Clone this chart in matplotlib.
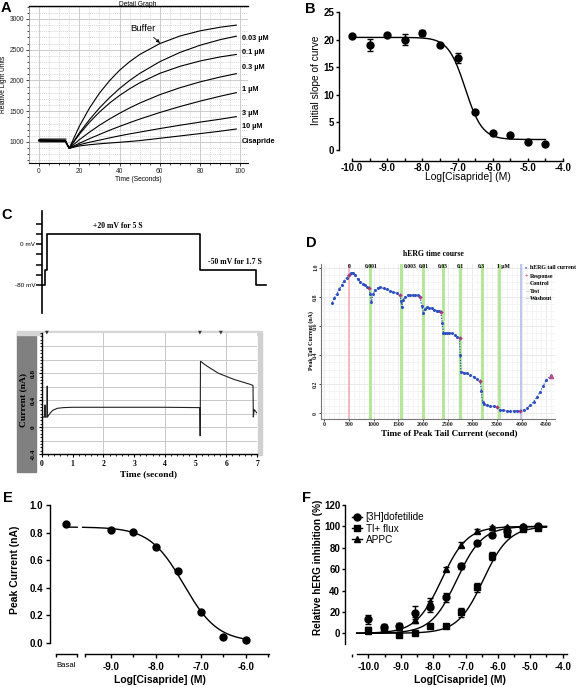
import numpy as np
import matplotlib
matplotlib.use("Agg")
import matplotlib.pyplot as plt
from matplotlib.ticker import MultipleLocator, FixedLocator, FormatStrFormatter, NullFormatter
from matplotlib.patches import Rectangle
from matplotlib.lines import Line2D

SANS = "Liberation Sans"
SERIF = "Liberation Serif"
plt.rcParams['font.family'] = [SANS, 'DejaVu Sans']
plt.rcParams['axes.unicode_minus'] = False

W, H = 576, 687
fig = plt.figure(figsize=(W / 100, H / 100), dpi=100)


def box(l, t, r, b):
    return [l / W, 1 - b / H, (r - l) / W, (b - t) / H]


def fx(x):
    return x / W


def fy(y):
    return 1 - y / H


# ------------------------------------------------------------------ data
# Panel A: fluorescence traces (time in s, relative light units)
a_time = [0, 13, 15, 20, 25, 30, 35, 40, 45, 50, 60, 70, 80, 90, 98]
a_buffer = [1025, 1020, 898, 1254, 1548, 1793, 1995, 2166, 2305, 2422, 2600, 2723, 2807, 2866, 2900]
a_c003 = [1030, 1025, 898, 1145, 1360, 1552, 1720, 1869, 2000, 2114, 2306, 2456, 2573, 2664, 2720]
a_c01 = [1020, 1015, 898, 1123, 1318, 1486, 1631, 1756, 1865, 1961, 2116, 2230, 2317, 2383, 2423]
a_c03 = [1035, 1030, 898, 1035, 1158, 1271, 1373, 1467, 1553, 1632, 1769, 1882, 1977, 2056, 2111]
a_c1 = [1015, 1010, 898, 978, 1052, 1122, 1190, 1253, 1314, 1372, 1479, 1576, 1664, 1744, 1802]
a_c3 = [1025, 1020, 898, 955, 995, 1030, 1066, 1100, 1131, 1160, 1218, 1272, 1323, 1370, 1412]
a_c10 = [1020, 1015, 898, 935, 955, 970, 983, 995, 1008, 1022, 1060, 1098, 1136, 1175, 1211]
a_labels = ["0.03 µM", "0.1 µM", "0.3 µM", "1 µM", "3 µM", "10 µM", "Cisapride"]

# Panel B
b_logc = [-10, -9.5, -9, -8.5, -8, -7.5, -7, -6.5, -6, -5.5, -5, -4.5]
b_slope = [20.7, 18.95, 20.76, 20.0, 21.2, 18.95, 16.6, 6.96, 3.15, 2.78, 1.51, 1.15]
b_err = [0, 1.1, 0, 0.95, 0.5, 0, 0.9, 0, 0, 0, 0, 0]
b_fit_bottom, b_fit_top, b_fit_logic50, b_fit_hill = 1.9, 20.4, -6.78, 1.8

# Panel C: voltage protocol and current trace
c_v_time = [0, 0.1, 0.16, 5.15, 6.97, 7.3]
c_v_mv = [-80, -50, 20, -50, -80, -80]
c_i_time = [0, 0.09, 0.1, 0.11, 0.16, 0.17, 0.18, 0.25, 0.35, 0.5, 0.7, 1.0, 2.0,
            3.0, 4.0, 5.14, 5.15, 5.16, 5.3, 5.5, 5.75, 6.0, 6.25, 6.5, 6.75,
            6.87, 6.88, 6.91, 7.0]
c_i_na = [0.15, 0.15, 0.33, 0.15, 0.15, 0.61, 0.15, 0.2, 0.25, 0.28, 0.29, 0.295, 0.295,
          0.295, 0.295, 0.29, -0.13, 0.98, 0.93, 0.87, 0.8, 0.755, 0.71, 0.675, 0.64,
          0.62, 0.15, 0.26, 0.21]

# Panel D: hERG time course
d_time = [163, 200, 250, 300, 350, 400, 450, 501, 540, 576, 620, 680, 725, 780, 826, 870, 907,
          930, 955, 990, 1029, 1080, 1130, 1200, 1266, 1330, 1401, 1470, 1536,
          1555, 1570, 1600, 1637, 1690, 1739, 1790, 1840, 1890, 1942,
          1975, 2010, 2040, 2078, 2130, 2179, 2230, 2281, 2320, 2362,
          2390, 2416, 2450, 2484, 2535, 2585, 2640, 2687, 2741,
          2755, 2768, 2830, 2890, 2960, 3025, 3090, 3160,
          3185, 3207, 3228, 3295, 3363, 3430, 3498,
          3552, 3620, 3701, 3770, 3836, 3900, 3972,
          4040, 4107, 4175, 4243, 4310, 4378, 4440, 4500, 4595]
d_current = [0.76, 0.79, 0.82, 0.85, 0.88, 0.91, 0.93, 0.95, 0.96, 0.966, 0.95, 0.92, 0.904, 0.89, 0.881, 0.868, 0.858,
             0.82, 0.767, 0.82, 0.847, 0.86, 0.865, 0.858, 0.851, 0.843, 0.835, 0.823, 0.812,
             0.77, 0.732, 0.78, 0.80, 0.81, 0.812, 0.815, 0.815, 0.81, 0.80,
             0.74, 0.687, 0.715, 0.728, 0.725, 0.721, 0.712, 0.705, 0.70, 0.693,
             0.62, 0.549, 0.552, 0.554, 0.552, 0.549, 0.537, 0.526, 0.515,
             0.40, 0.286, 0.28, 0.275, 0.263, 0.252, 0.237, 0.222,
             0.15, 0.08, 0.064, 0.056, 0.05, 0.048, 0.046,
             0.023, 0.02, 0.018, 0.017, 0.016, 0.017, 0.018,
             0.024, 0.034, 0.055, 0.08, 0.11, 0.149, 0.19, 0.229, 0.259]
d_resp_time = [501, 907, 1536, 1942, 2362, 2741, 3160, 3498, 3972]
d_resp_current = [0.95, 0.858, 0.812, 0.80, 0.693, 0.515, 0.222, 0.046, 0.018]
d_control_time = 501
d_test_times = [941, 1560, 2010, 2416, 2761, 3207, 3552]
d_washout_time = 3990
d_conc_labels = ["0", "0.001", "0.003", "0.01", "0.03", "0.1", "0.3", "1 µM"]
d_conc_label_times = [507, 948, 1746, 2010, 2395, 2754, 3180, 3633]
d_yticks = [0, 0.2, 0.4, 0.6, 0.8, 1.0]
d_yticklabels = ['0', '0.2', '0.4', '0.6', '0.8', '1.0']

# Panel E
e_logc = [-9, -8.5, -8, -7.5, -7, -6.5, -6]
e_current = [0.818, 0.801, 0.697, 0.521, 0.22, 0.044, 0.017]
e_basal = 0.86
e_fit_bottom, e_fit_top, e_fit_logic50, e_fit_hill = 0.005, 0.84, -7.38, 1.15

# Panel F
f_logc = [-10, -9.52, -9.05, -8.57, -8.09, -7.61, -7.14, -6.66, -6.18, -5.71, -5.23, -4.75]
f_dof = [13, 6, 7, 19.3, 25, 33.7, 63, 84, 92, 96, 99.7, 100.7]
f_dof_err = [4, 3, 3, 6, 5, 4, 3, 1.5, 2, 2, 1, 1]
f_tl = [3.5, 4, -1.5, 0.6, 6.9, 6.9, 19.6, 43, 72.3, 93.5, 98, 98.8]
f_tl_err = [2, 2, 2, 1, 1, 1, 4, 4, 4, 3, 2, 2]
f_appc = [2, 5, 6, 12.5, 29.6, 60, 83, 95.7, 99.7, 99, 100, 100]
f_appc_err = [1, 1, 1, 3, 3, 2, 2, 2, 1, 1, 1, 1]
f_fit_dof = (0, 100, -7.27, 1.1)
f_fit_tl = (0, 100, -6.45, 1.1)
f_fit_appc = (0, 100, -7.74, 1.1)
f_series_names = ["[3H]dofetilide", "Tl+ flux", "APPC"]


def hill_down(x, bottom, top, c50, h):
    return bottom + (top - bottom) / (1 + 10 ** ((x - c50) * h))


def hill_up(x, bottom, top, c50, h):
    return bottom + (top - bottom) / (1 + 10 ** ((c50 - x) * h))


def panel_letter(x, y, s):
    fig.text(fx(x), fy(y), s, fontsize=10.5, fontweight='bold', family=SANS,
             ha='left', va='top')


# ------------------------------------------------------------------ Panel A
axA = fig.add_axes(box(29, 6, 248, 163))
axA.set_xlim(-4.97, 103.8)
axA.set_ylim(658, 3211)
axA.xaxis.set_major_locator(MultipleLocator(20))
axA.xaxis.set_minor_locator(MultipleLocator(5))
axA.yaxis.set_major_locator(FixedLocator([1000, 1500, 2000, 2500, 3000]))
axA.yaxis.set_minor_locator(MultipleLocator(100))
axA.grid(which='major', color='#c4c4c4', lw=0.6)
axA.grid(which='minor', color='#c8c8c8', lw=0.5, ls=(0, (1.5, 1.5)))
axA.set_axisbelow(True)
axA.tick_params(labelsize=4.8, colors='#222222', length=2, width=0.6, pad=1.5)
axA.tick_params(which='minor', length=1.2, width=0.5)
axA.spines['right'].set_visible(False)
axA.spines['top'].set_linewidth(1.0)
axA.spines['left'].set_color('#888888')
axA.spines['left'].set_linewidth(0.6)
axA.spines['bottom'].set_linewidth(0.8)
axA.plot([0, 13.5], [1030, 1030], color='#7a7a7a', lw=3.5, solid_capstyle='butt')
for series in [a_buffer, a_c003, a_c01, a_c03, a_c1, a_c3, a_c10]:
    axA.plot(a_time, series, color='black', lw=0.8)
label_vals = [2690, 2447, 2203, 1846, 1470, 1244, 1000]
for lab, v in zip(a_labels, label_vals):
    axA.text(100.8, v, lab, fontsize=5.3, fontweight='bold', ha='left', va='center',
             clip_on=False)
axA.annotate("Buffer", xy=(60.1, 2610), xytext=(51.7, 2850), fontsize=6.8,
             ha='center', va='center',
             arrowprops=dict(arrowstyle='-|>', lw=0.6, color='black',
                             mutation_scale=5, shrinkA=2, shrinkB=0))
axA.set_xlabel("Time (Seconds)", fontsize=4.8, labelpad=1)
axA.set_ylabel("Relative Light Units", fontsize=4.8, labelpad=2)
fig.text(fx(138), fy(4), "Detail Graph", fontsize=4.8, ha='center', va='center')
panel_letter(1, 1, "A")

# ------------------------------------------------------------------ Panel B
axB = fig.add_axes(box(339, 10, 566, 161))
axB.set_xlim(-10.37, -3.915)
axB.set_ylim(-1.99, 25.36)
for s in ['top', 'right']:
    axB.spines[s].set_visible(False)
axB.spines['left'].set_bounds(0, 25)
axB.spines['bottom'].set_bounds(-10, -4)
for s in ['left', 'bottom']:
    axB.spines[s].set_linewidth(1.0)
axB.xaxis.set_major_locator(MultipleLocator(1))
axB.xaxis.set_minor_locator(MultipleLocator(0.5))
axB.xaxis.set_major_formatter(FormatStrFormatter('%.1f'))
axB.yaxis.set_major_locator(MultipleLocator(5))
axB.tick_params(labelsize=7, length=2.5, width=1, pad=1)
axB.tick_params(axis='x', direction='in', length=2.5, pad=1.5)
axB.tick_params(axis='x', which='minor', direction='in', length=2, width=1)
for lab in axB.get_xticklabels() + axB.get_yticklabels():
    lab.set_fontweight('bold')
xs = np.linspace(-10, -4.5, 300)
axB.plot(xs, hill_down(xs, b_fit_bottom, b_fit_top, b_fit_logic50, b_fit_hill),
         color='black', lw=1.0)
axB.errorbar(b_logc, b_slope, yerr=b_err, fmt='o', color='black', ms=5,
             capsize=2.5, elinewidth=1, capthick=1)
fig.text(fx(316), fy(80), "Initial slope of curve", fontsize=7.3, rotation=90,
         ha='center', va='center')
fig.text(fx(468), fy(177), "Log[Cisapride] (M)", fontsize=7.5, ha='center', va='center')
panel_letter(305, 2, "B")

# ------------------------------------------------------------------ Panel C (protocol)
axCv = fig.add_axes(box(42, 211, 275, 313))
axCv.set_xlim(0, 7.587)
axCv.set_ylim(-134.6, 64.4)
for s in ['top', 'right', 'bottom']:
    axCv.spines[s].set_visible(False)
axCv.spines['left'].set_linewidth(1.2)
axCv.set_xticks([])
axCv.set_yticks([40, 20, 0, -20, -40, -60, -80])
axCv.set_yticklabels(['', '', '0 mV', '', '', '', '-80 mV'])
axCv.tick_params(axis='y', length=4.2, width=1.1, labelsize=4.6, pad=0.5)
axCv.step(c_v_time, c_v_mv, where='post', color='black', lw=1.2, clip_on=False)
axCv.text(2.47, 35, "+20 mV for 5 S", family=SERIF, fontweight='bold', fontsize=5.6,
          ha='center', va='center')
axCv.text(6.28, -35, "-50 mV for 1.7 S", family=SERIF, fontweight='bold', fontsize=5.6,
          ha='center', va='center')
panel_letter(1, 208, "C")

# ------------------------------------------------------------------ Panel C (current)
fig.add_artist(Rectangle((fx(17), fy(472)), (36 - 17) / W, (472 - 333) / H,
                         transform=fig.transFigure, color='#808080', zorder=0))
fig.add_artist(Rectangle((fx(17), fy(335)), (262 - 17) / W, 4 / H,
                         transform=fig.transFigure, color='#d6d6d6', zorder=0))
fig.add_artist(Rectangle((fx(258), fy(455)), 4 / W, (455 - 333) / H,
                         transform=fig.transFigure, color='#d0d0d0', zorder=0))
for xm in [47, 200, 221]:
    fig.text(fx(xm), fy(332), "▼", fontsize=3.5, ha='center', va='center',
             family='DejaVu Sans', color='#333333')
axCi = fig.add_axes(box(42, 333, 257, 454))
axCi.set_xlim(0, 7)
axCi.set_ylim(-0.4, 1.4)
axCi.xaxis.set_major_locator(MultipleLocator(1))
axCi.xaxis.set_minor_locator(MultipleLocator(0.2))
axCi.yaxis.set_major_locator(FixedLocator([-0.4, 0, 0.4, 0.8]))
axCi.yaxis.set_minor_locator(MultipleLocator(0.05))
axCi.set_yticklabels(['-0.4', '0', '0.4', '0.8'])
for yv in [-0.2, 0, 0.2, 0.4, 0.6, 0.8, 1.0, 1.2]:
    axCi.axhline(yv, color='#c8c8c8', lw=0.7, zorder=0)
for xv in [2, 4, 6]:
    axCi.axvline(xv, color='#c8c8c8', lw=0.7, zorder=0)
for s in ['top', 'right']:
    axCi.spines[s].set_visible(False)
axCi.spines['left'].set_linewidth(1.0)
axCi.spines['bottom'].set_linewidth(1.0)
axCi.tick_params(axis='x', labelsize=5.5, length=2.5, width=0.8, pad=1.5)
axCi.tick_params(axis='y', labelsize=5.2, length=2.5, width=0.8, pad=2, labelrotation=90)
axCi.tick_params(which='minor', length=1.5, width=0.6)
for lab in axCi.get_xticklabels() + axCi.get_yticklabels():
    lab.set_family(SERIF)
    lab.set_fontweight('bold')
for lab in axCi.get_yticklabels():
    lab.set_va('center')
axCi.plot(c_i_time, c_i_na, color='#222222', lw=0.8)
fig.text(fx(149), fy(474), "Time (second)", family=SERIF, fontweight='bold',
         fontsize=6.8, ha='center', va='center')
fig.text(fx(23), fy(400), "Current (nA)", family=SERIF, fontweight='bold',
         fontsize=6.8, rotation=90, ha='center', va='center')

# ------------------------------------------------------------------ Panel D
axD = fig.add_axes(box(320.7, 264, 555, 419.3))
axD.set_xlim(-73, 4676)
axD.set_ylim(-0.041, 1.025)
axD.xaxis.set_major_locator(MultipleLocator(500))
axD.xaxis.set_minor_locator(MultipleLocator(100))
axD.yaxis.set_major_locator(FixedLocator(d_yticks))
axD.yaxis.set_minor_locator(MultipleLocator(0.05))
axD.set_yticklabels(d_yticklabels)
axD.grid(which='minor', color='#f2f2f2', lw=0.5)
axD.grid(which='major', color='#e6e6e6', lw=0.6)
axD.set_axisbelow(True)
for s in ['top', 'right']:
    axD.spines[s].set_visible(False)
for s in ['left', 'bottom']:
    axD.spines[s].set_color('#777777')
    axD.spines[s].set_linewidth(0.8)
axD.tick_params(labelsize=4.2, length=1.5, width=0.6, pad=0.8, colors='#222222')
axD.tick_params(which='minor', length=0)
axD.tick_params(axis='y', labelrotation=90, pad=0.3)
for lab in axD.get_xticklabels() + axD.get_yticklabels():
    lab.set_family(SERIF)
    lab.set_fontweight('bold')
for lab in axD.get_yticklabels():
    lab.set_va('center')
for tt in d_test_times:
    axD.axvspan(tt - 28, tt + 28, color='#b5e69a', lw=0, zorder=1)
axD.axvline(d_control_time, color='#f2a7b5', lw=1.1, zorder=1)
axD.axvline(d_washout_time, color='#aab8e6', lw=1.1, zorder=1)
axD.plot(d_time, d_current, color='#2f50c0', lw=0.9, ls=(0, (1, 1.2)), zorder=3)
axD.plot(d_time, d_current, 'o', color='#2f50c0', ms=1.2, zorder=3)
axD.plot(d_resp_time, d_resp_current, '+', color='#c0306a', ms=3, mew=0.8, zorder=4)
axD.plot([4595], [0.259], '^', color='#b04f8f', ms=3, zorder=4)
for lab, tt in zip(d_conc_labels, d_conc_label_times):
    axD.text(tt, 1.008, lab, family=SERIF, fontweight='bold', fontsize=4.1,
             ha='center', va='center')
fig.text(fx(433), fy(254), "hERG time course", family=SERIF, fontweight='bold',
         fontsize=5.6, ha='center', va='center')
fig.text(fx(449), fy(433), "Time of Peak Tail Current (second)", family=SERIF,
         fontweight='bold', fontsize=6.6, ha='center', va='center')
fig.text(fx(311), fy(340), "Peak Tail Current (nA)", family=SERIF, fontweight='bold',
         fontsize=4.3, rotation=90, ha='center', va='center')
leg_items = [("•", '#2f50c0', "hERG tail current", 267.7),
             ("+", '#c0306a', "Response", 276),
             ("—", '#f2a7b5', "Control", 283.3),
             ("—", '#8fd870', "Test", 291.3),
             ("—", '#8ea2e0', "Washout", 299)]
for sym, col, lab, yy in leg_items:
    fig.text(fx(525), fy(yy), sym, color=col, family=SERIF, fontweight='bold',
             fontsize=4.3, ha='left', va='center')
    fig.text(fx(530), fy(yy), lab, family=SERIF, fontweight='bold',
             fontsize=4.2, ha='left', va='center')
panel_letter(306, 236, "D")

# ------------------------------------------------------------------ Panel E
axE = fig.add_axes(box(50, 500, 270, 654))
axE.set_xlim(-10.356, -5.46)
axE.set_ylim(-0.082, 1.036)
for s in ['top', 'right', 'bottom']:
    axE.spines[s].set_visible(False)
axE.spines['left'].set_bounds(0, 1.0)
axE.spines['left'].set_linewidth(1.0)
axE.plot([-10.22, -9.75], [-0.082, -0.082], color='black', lw=1.0, clip_on=False)
axE.plot([-9.578, -5.48], [-0.082, -0.082], color='black', lw=1.0, clip_on=False)
axE.xaxis.set_major_locator(FixedLocator([-9, -8, -7, -6]))
axE.xaxis.set_minor_locator(FixedLocator([-10.22, -9.75, -9.578, -8.5, -7.5, -6.5, -5.5]))
axE.xaxis.set_major_formatter(FormatStrFormatter('%.1f'))
axE.xaxis.set_minor_formatter(NullFormatter())
axE.yaxis.set_major_locator(MultipleLocator(0.2))
axE.yaxis.set_major_formatter(FormatStrFormatter('%.1f'))
axE.tick_params(labelsize=7, length=3, width=1, pad=2)
axE.tick_params(axis='x', pad=3)
axE.tick_params(which='minor', length=2.5, width=1)
for lab in axE.get_xticklabels() + axE.get_yticklabels():
    lab.set_fontweight('bold')
axE.text(-9.99, -0.165, "Basal", fontsize=5.6, ha='center', va='center')
xs1 = np.linspace(-9.92, -9.75, 10)
xs2 = np.linspace(-9.63, -6.0, 300)
for xx in [xs1, xs2]:
    axE.plot(xx, hill_down(xx, e_fit_bottom, e_fit_top, e_fit_logic50, e_fit_hill),
             color='black', lw=1.0)
axE.plot([-9.99], [e_basal], 'o', color='black', ms=5)
axE.plot(e_logc, e_current, 'o', color='black', ms=5)
fig.text(fx(15), fy(570), "Peak Current (nA)", fontsize=7.5, fontweight='bold',
         rotation=90, ha='center', va='center')
fig.text(fx(160), fy(680), "Log[Cisapride] (M)", fontsize=7.5, fontweight='bold',
         ha='center', va='center')
panel_letter(3, 491, "E")

# ------------------------------------------------------------------ Panel F
axF = fig.add_axes(box(345, 500, 567, 654))
axF.set_xlim(-10.72, -3.867)
axF.set_ylim(-19.4, 124.7)
for s in ['top', 'right']:
    axF.spines[s].set_visible(False)
axF.spines['left'].set_bounds(-10, 120)
axF.spines['bottom'].set_bounds(-10.36, -3.87)
for s in ['left', 'bottom']:
    axF.spines[s].set_linewidth(1.0)
axF.xaxis.set_major_locator(MultipleLocator(1))
axF.xaxis.set_minor_locator(MultipleLocator(0.5))
axF.xaxis.set_major_formatter(FormatStrFormatter('%.1f'))
axF.yaxis.set_major_locator(FixedLocator([0, 20, 40, 60, 80, 100, 120]))
axF.tick_params(labelsize=7, length=2.5, width=1, pad=1)
axF.tick_params(axis='x', length=3, pad=3)
axF.tick_params(which='minor', length=2, width=1)
for lab in axF.get_xticklabels() + axF.get_yticklabels():
    lab.set_fontweight('bold')
xs = np.linspace(-10.36, -4.5, 300)
for p in [f_fit_dof, f_fit_tl, f_fit_appc]:
    axF.plot(xs, hill_up(xs, *p), color='black', lw=1.0)
axF.errorbar(f_logc, f_dof, yerr=f_dof_err, fmt='o', color='black', ms=5,
             capsize=2.5, elinewidth=1, capthick=1)
axF.errorbar(f_logc, f_tl, yerr=f_tl_err, fmt='s', color='black', ms=4.6,
             capsize=2.5, elinewidth=1, capthick=1)
axF.errorbar(f_logc, f_appc, yerr=f_appc_err, fmt='^', color='black', ms=5,
             capsize=2.5, elinewidth=1, capthick=1)
handles = [Line2D([], [], color='black', marker=m, ms=ms, lw=1)
           for m, ms in [('o', 5), ('s', 4.6), ('^', 5)]]
axF.legend(handles, f_series_names, loc='upper left',
           bbox_to_anchor=(0.03, 0.92), frameon=False, fontsize=7.2,
           handlelength=1.0, handletextpad=0.4, labelspacing=0.12, borderaxespad=0,
           borderpad=0)
fig.text(fx(318), fy(567), "Relative hERG inhibition (%)", fontsize=7.2,
         fontweight='bold', rotation=90, ha='center', va='center')
fig.text(fx(460), fy(680), "Log[Cisapride] (M)", fontsize=7.5, fontweight='bold',
         ha='center', va='center')
panel_letter(302, 491, "F")

fig.savefig("out.png", dpi=100)
